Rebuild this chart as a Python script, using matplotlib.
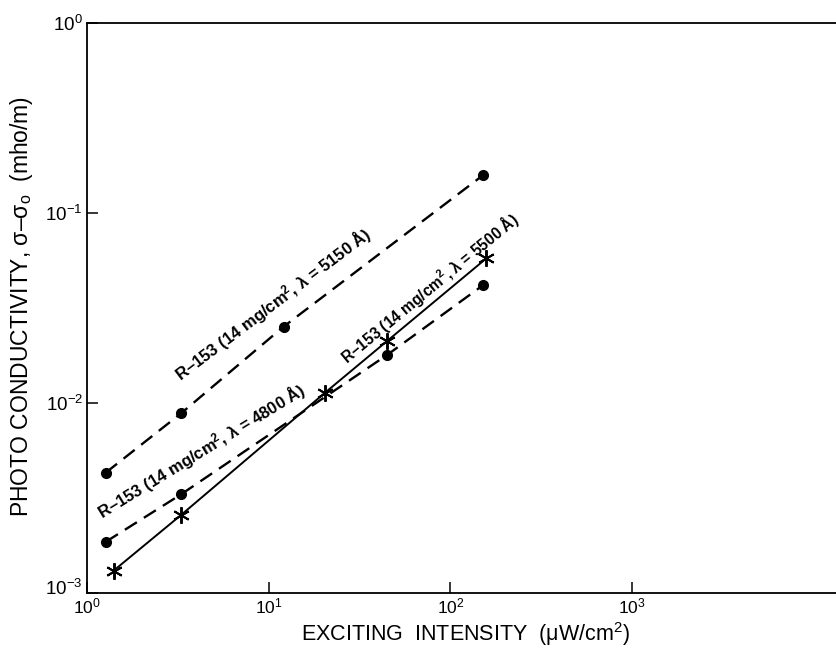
from matplotlib import pyplot as plt
from matplotlib.transforms import ScaledTranslation

plt.rcParams['font.family'] = ['Liberation Sans', 'DejaVu Sans']
plt.rcParams['mathtext.fontset'] = 'custom'
plt.rcParams['mathtext.rm'] = 'Liberation Sans'
plt.rcParams['mathtext.it'] = 'Liberation Sans:italic'
plt.rcParams['mathtext.default'] = 'regular'

# data
x_5150 = [1.27, 3.29, 12.1, 152]
y_5150 = [0.0043, 0.0088, 0.0252, 0.158]

x_4800 = [1.27, 3.29, 45.0, 152]
y_4800 = [0.00186, 0.0033, 0.0179, 0.0417]

x_5500 = [1.40, 3.29, 20.4, 45.0, 158]
y_5500 = [0.00131, 0.00257, 0.0113, 0.0212, 0.0576]

x_ticks = [1, 10, 100, 1000]
x_tick_labels = ['10$^0$', '10$^1$', '10$^2$', '10$^3$']
y_ticks = [1e-3, 1e-2, 1e-1, 1]
y_tick_labels = ['10$^{-3}$', '10$^{-2}$', '10$^{-1}$', '10$^0$']

label_5150 = 'R\u2013153 (14 mg/cm$^2$, \u03bb = 5150 \u00c5)'
label_4800 = 'R\u2013153 (14 mg/cm$^2$, \u03bb = 4800 \u00c5)'
label_5500 = 'R\u2013153 (14 mg/cm$^2$, \u03bb = 5500 \u00c5)'

fig = plt.figure(figsize=(8.37, 6.49), dpi=100)
ax = fig.add_axes([0.104, 0.0863, 0.896, 0.879])
ax.set_xscale('log')
ax.set_yscale('log')
ax.set_xlim(1, 10 ** 4.128)
ax.set_ylim(1e-3, 1)

dash = (0, (6, 3.5))
ax.plot(x_5150, y_5150, color='black', lw=1.7, linestyle=dash,
        marker='o', markersize=7)
ax.plot(x_4800, y_4800, color='black', lw=1.7, linestyle=dash,
        marker='o', markersize=7)
ax.plot(x_5500, y_5500, color='black', lw=1.4, linestyle='-',
        marker=(6, 2, 0), markersize=12, markeredgewidth=1.4)

ax.spines['right'].set_visible(False)
for s in ['left', 'bottom', 'top']:
    ax.spines[s].set_linewidth(1.3)

ax.set_xticks(x_ticks)
ax.set_xticklabels(x_tick_labels, fontsize=12.5)
ax.set_yticks(y_ticks)
ax.set_yticklabels(y_tick_labels, fontsize=13.5)
ax.minorticks_off()
ax.tick_params(direction='in', length=8, width=1.1)
ax.tick_params(axis='x', pad=2.5)
ax.tick_params(axis='y', pad=3)

# lift the lowest y tick label a little, as in the original
low = ax.get_yticklabels()[0]
low.set_transform(low.get_transform()
                  + ScaledTranslation(0, 4 / 72, fig.dpi_scale_trans))

fig.text(0.556, 1 - 634 / 649, 'EXCITING  INTENSITY  ($\\mu$W/cm$^2$)',
         fontsize=15.5, ha='center', va='center')
fig.text(22 / 837, 1 - 306 / 649,
         'PHOTO CONDUCTIVITY, \u03c3\u2013\u03c3$_o$  (mho/m)',
         fontsize=16.5, rotation=90, ha='center', va='center')

ax.text(10.56, 0.0327, label_5150, rotation=37,
        rotation_mode='anchor', ha='center', va='center', fontsize=12,
        fontweight='bold')
ax.text(4.29, 0.00552, label_4800, rotation=31.5,
        rotation_mode='anchor', ha='center', va='center', fontsize=12,
        fontweight='bold')
ax.text(77.2, 0.0402, label_5500, rotation=39.5,
        rotation_mode='anchor', ha='center', va='center', fontsize=11.2,
        fontweight='bold')

plt.savefig('out.png', dpi=100)
